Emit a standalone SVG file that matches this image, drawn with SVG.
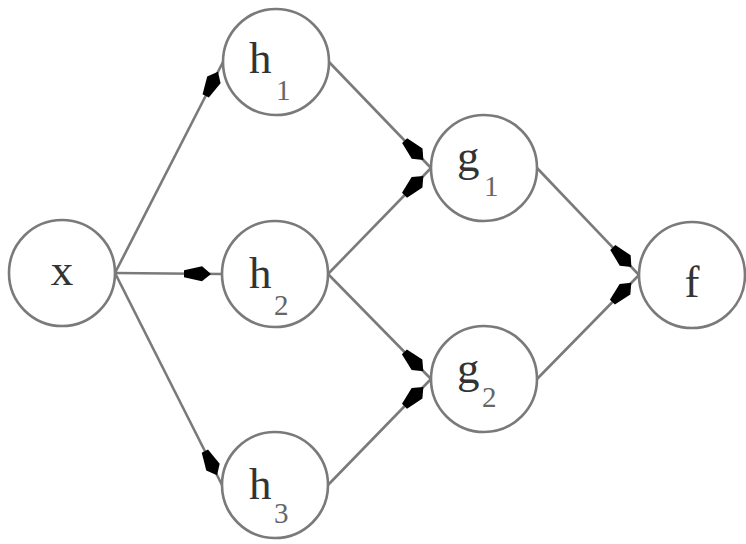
<svg xmlns="http://www.w3.org/2000/svg" width="746" height="544" viewBox="0 0 746 544">
  <style>
    .node circle { fill: #ffffff; stroke: #7a7a7a; stroke-width: 2.6; }
    .edge { fill: none; stroke: #7a7a7a; stroke-width: 2.6; marker-end: url(#arr); }
    .lbl { font-family: "Liberation Serif", "Times New Roman", serif; font-size: 45px; fill: #333333; }
    .sub { font-family: "Liberation Serif", "Times New Roman", serif; font-size: 29px; fill: #666666; }
  </style>
  <defs>
    <marker id="arr" markerUnits="userSpaceOnUse" viewBox="-50 -10 60 20" refX="0" refY="0" markerWidth="60" markerHeight="20" orient="auto" overflow="visible">
      <path d="M-11,0 L-20,-7.5 L-38,-3.5 L-38,3.5 L-20,7.5 Z" fill="#000000"/>
    </marker>
  </defs>
  <rect width="746" height="544" fill="#ffffff"/>
  <g id="connectors">
    <path class="edge" d="M115,273 L223,62"/>
    <path class="edge" d="M115,273 L222,274"/>
    <path class="edge" d="M115,273 L222,485"/>
    <path class="edge" d="M329,62 L431,168"/>
    <path class="edge" d="M328,274 L431,168"/>
    <path class="edge" d="M328,274 L431,379"/>
    <path class="edge" d="M328,485 L431,379"/>
    <path class="edge" d="M537,168 L639,275"/>
    <path class="edge" d="M537,379 L639,275"/>
  </g>
  <g id="node-x" class="node">
    <circle cx="62" cy="273" r="53"/>
    <text class="lbl" x="62" y="285" text-anchor="middle">x</text>
  </g>
  <g id="node-h1" class="node">
    <circle cx="276" cy="62" r="53"/>
    <text class="lbl" x="249" y="73">h</text>
    <text class="sub" x="276" y="100">1</text>
  </g>
  <g id="node-h2" class="node">
    <circle cx="275" cy="274" r="53"/>
    <text class="lbl" x="249" y="288">h</text>
    <text class="sub" x="274" y="315">2</text>
  </g>
  <g id="node-h3" class="node">
    <circle cx="275" cy="485" r="53"/>
    <text class="lbl" x="249" y="499">h</text>
    <text class="sub" x="274" y="523">3</text>
  </g>
  <g id="node-g1" class="node">
    <circle cx="484" cy="168" r="53"/>
    <text class="lbl" x="457" y="171">g</text>
    <text class="sub" x="484" y="196">1</text>
  </g>
  <g id="node-g2" class="node">
    <circle cx="484" cy="379" r="53"/>
    <text class="lbl" x="457" y="383">g</text>
    <text class="sub" x="482" y="407">2</text>
  </g>
  <g id="node-f" class="node">
    <circle cx="692" cy="275" r="53"/>
    <text class="lbl" x="692" y="297" text-anchor="middle">f</text>
  </g>
</svg>
